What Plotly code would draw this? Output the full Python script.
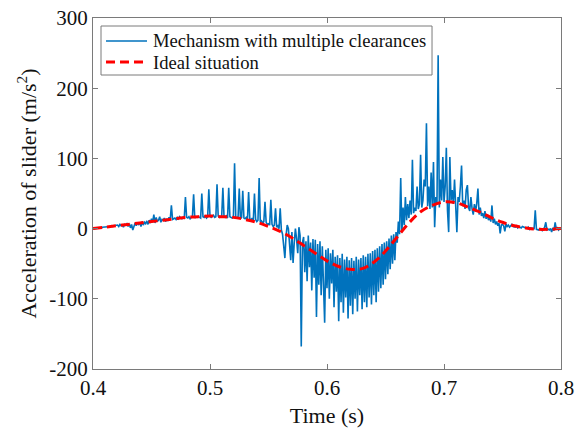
import plotly.graph_objects as go

# Ideal curve, sampled every 0.01 s
ideal_t = [0.40, 0.41, 0.42, 0.43, 0.44, 0.45, 0.46, 0.47, 0.48, 0.49,
           0.50, 0.51, 0.52, 0.53, 0.54, 0.55, 0.56, 0.57, 0.58, 0.59,
           0.60, 0.61, 0.62, 0.63, 0.64, 0.65, 0.66, 0.67, 0.68, 0.69,
           0.70, 0.71, 0.72, 0.73, 0.74, 0.75, 0.76, 0.77, 0.78, 0.79, 0.80]
ideal_a = [0, 2, 4, 6, 8, 10, 12, 14, 16, 17,
           18, 17, 16, 13, 9, 3, -4, -13, -24, -35,
           -46, -54, -58, -57, -48, -32, -12, 8, 24, 33,
           38, 37, 31, 24, 16, 9, 4, 1, -1, -1, 0]

# Measured signal, sampled every 0.001 s from 0.400 s
t_start = 0.400
t_step = 0.001
clear_a = [
    0, 0, 0, 1, 1, 1, 1, 1, 2, 2,
    2, 2, 3, 2, 3, 3, 4, 3, 4, 4,
    4, 5, 3, 6, 4, 5, 2, 6, 5, 7,
    3, 7, 1, 6, -2, 5, 8, 4, 9, 6,
    8, 3, 10, 5, 9, 7, 11, 6, 12, 8,
    14, 9, 20, 8, 16, 10, 12, 17, 9, 13,
    12, 15, 10, 14, 11, 16, 13, 33, 13, 14,
    15, 13, 16, 14, 17, 15, 14, 16, 15, 45,
    16, 15, 17, 14, 16, 18, 49, 15, 17, 16,
    17, 16, 15, 50, 17, 16, 18, 15, 17, 56,
    18, 16, 17, 19, 16, 17, 63, 18, 16, 17,
    18, 58, 17, 16, 18, 15, 58, 17, 16, 15,
    17, 93, 16, 15, 17, 57, 14, 16, 54, 15,
    14, 16, 13, 52, 14, 12, 15, 11, 50, 13,
    10, 12, 72, 9, 11, 8, 10, 38, 9, 6,
    7, 5, 41, 6, 3, 5, 29, 2, 4, 0,
    29, -2, -8, -25, -42, -10, 5, 0, -30, -45,
    -5, -49, -20, 0, -15, -35, 2, -10, -168, -20,
    -12, -62, -18, -75, -10, -55, -20, -88, -15, -70,
    -16, -126, -22, -80, -18, -95, -25, -72, -134, -30,
    -85, -28, -100, -35, -78, -30, -112, -40, -90, -38,
    -132, -42, -105, -36, -120, -44, -98, -40, -128, -45,
    -110, -42, -122, -46, -100, -40, -118, -44, -95, -42,
    -115, -38, -105, -40, -112, -36, -98, -35, -108, -32,
    -95, -30, -105, -28, -90, -25, -85, -22, -80, -20,
    -72, -18, -65, -14, -58, -10, -50, -8, -45, -5,
    -20, 10, -8, 72, -5, 30, 5, 45, 12, 35,
    15, 40, 20, 98, 22, 30, 25, 60, 28, 35,
    105, 30, 40, 70, 60, 150, 32, 60, 28, 80,
    30, 95, 2, 45, 35, 247, 30, 70, 40, 102,
    38, 60, 115, 25, -5, 102, 40, 55, 35, 70,
    30, -5, 45, 38, 60, 90, 32, 40, 28, 55,
    62, 30, 25, 45, 28, 20, 35, 24, 36, 57,
    20, 30, 18, 22, 15, 25, 14, 20, 12, 16,
    10, 33, 8, 14, 6, 10, 4, 8, -7, 5,
    6, 4, -4, 7, 3, 5, 2, 4, 6, 3,
    3, 2, 4, 1, 3, 2, 1, 3, 2, 1,
    1, 0, 2, -1, 1, 0, 0, 0, 26, -1,
    -1, -2, 0, -1, -3, -1, 2, 9, -2, -1,
    -2, 0, -5, 1, -3, 9, -1, 2, -2, 0,
    0,
]
clear_t = [t_start + i * t_step for i in range(len(clear_a))]

series_names = ["Mechanism with multiple clearances", "Ideal situation"]
x_ticks = [0.4, 0.5, 0.6, 0.7, 0.8]
y_ticks = [-200, -100, 0, 100, 200, 300]

FONT = "Liberation Serif, Times New Roman, serif"
AXC = "#7a7a7a"
BLUE = "#0072BD"
RED = "#FF0000"
RED_DASH = "9px,5px"

fig = go.Figure()
fig.add_trace(go.Scatter(
    x=clear_t, y=clear_a, mode="lines", name=series_names[0],
    line=dict(color=BLUE, width=1.6),
))
fig.add_trace(go.Scatter(
    x=ideal_t, y=ideal_a, mode="lines", name=series_names[1],
    line=dict(color=RED, width=3, dash=RED_DASH, shape="spline"),
))

# Legend drawn as a boxed key in the upper left of the axes (paper coords)
L_X0, L_X1, L_Y0, L_Y1 = 0.0171, 0.7244, 0.8376, 0.9772
S_X0, S_X1, T_X = 0.0278, 0.1154, 0.1239
ROW_Y = [0.9345, 0.8746]
fig.add_shape(type="rect", xref="paper", yref="paper",
              x0=L_X0, x1=L_X1, y0=L_Y0, y1=L_Y1,
              line=dict(color=AXC, width=1), fillcolor="white", layer="above")
fig.add_shape(type="line", xref="paper", yref="paper",
              x0=S_X0, x1=S_X1, y0=ROW_Y[0], y1=ROW_Y[0],
              line=dict(color=BLUE, width=1.4), layer="above")
fig.add_shape(type="line", xref="paper", yref="paper",
              x0=S_X0, x1=S_X1, y0=ROW_Y[1], y1=ROW_Y[1],
              line=dict(color=RED, width=3, dash=RED_DASH), layer="above")
for name, ry in zip(series_names, ROW_Y):
    fig.add_annotation(xref="paper", yref="paper", x=T_X, y=ry,
                       xanchor="left", yanchor="middle", showarrow=False,
                       text=name, font=dict(family=FONT, size=18.6, color="#111111"))

fig.update_layout(
    width=585, height=432,
    margin=dict(l=93, r=24, t=18, b=63, autoexpand=False),
    paper_bgcolor="white", plot_bgcolor="white",
    font=dict(family=FONT, size=21, color="#111111"),
    showlegend=False,
    xaxis=dict(
        range=[0.4, 0.8], tickvals=x_ticks, ticktext=[str(v) for v in x_ticks],
        showline=True, linecolor=AXC, linewidth=1, mirror="ticks",
        ticks="inside", ticklen=5, tickcolor=AXC, showgrid=False, zeroline=False,
        automargin=False,
        title=dict(text="Time (s)", font=dict(family=FONT, size=22), standoff=8),
    ),
    yaxis=dict(
        range=[-200, 300], tickvals=y_ticks, ticktext=[str(v) for v in y_ticks],
        showline=True, linecolor=AXC, linewidth=1, mirror="ticks",
        ticks="inside", ticklen=5, tickcolor=AXC, showgrid=False, zeroline=False,
        automargin=False,
        title=dict(text="Acceleration of slider (m/s<sup>2</sup>)",
                   font=dict(family=FONT, size=22), standoff=6),
    ),
)

fig.write_html("out.html")
